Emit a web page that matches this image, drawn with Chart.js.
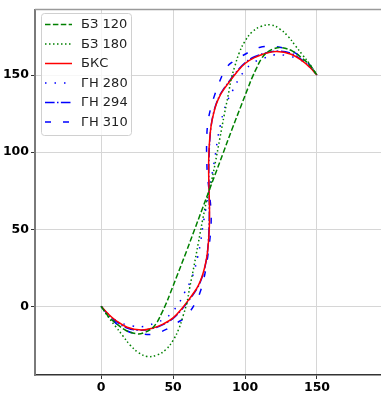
<!DOCTYPE html>
<html>
<head>
<meta charset="utf-8">
<script src="https://cdn.jsdelivr.net/npm/chart.js@4.4.1/dist/chart.umd.min.js"></script>
<style>
  html, body { margin: 0; padding: 0; background: #fff; }
  #wrap { width: 381px; height: 393px; position: relative; }
</style>
</head>
<body>
<div id="wrap"><canvas id="chart"></canvas></div>
<script>
// tick labels
const xTicks = [0, 50, 100, 150];
const yTicks = [0, 50, 100, 150];

// БЗ 120
const bz120X = [0, 5, 10, 17, 25, 30, 35, 39, 42, 45, 48, 53, 59, 65, 70, 75, 80, 85, 91, 97, 102, 105, 108, 111, 115, 120, 125, 133, 140, 145, 150];
const bz120Y = [0, -6.5, -10.7, -15.5, -17.8, -17, -14.5, -10, -4.5, 1.5, 8.5, 20.5, 35, 50, 62.5, 75, 87.5, 100, 115, 129.5, 141.5, 148.5, 154.5, 160, 164.5, 167, 167.8, 165.5, 160.7, 156.5, 150];

// БЗ 180
const bz180X = [0, 5, 10, 15, 20, 26, 32, 39, 45, 50, 54, 57, 59.5, 61.5, 64.5, 67.5, 70.5, 73, 75, 77, 79.5, 82.5, 85.5, 88.5, 90.5, 93, 96, 100, 105, 111, 118, 124, 130, 135, 140, 145, 150];
const bz180Y = [0, -7, -13, -19, -25, -30, -32.5, -31.5, -28, -22, -14.5, -6, 2, 12, 26, 41, 56, 67.5, 75, 82.5, 94, 109, 124, 138, 148, 156, 164.5, 172, 178, 181.5, 182.5, 180, 175, 169, 163, 157, 150];

// БКС
const bksX = [0, 5, 10, 18, 28, 36, 43, 50, 56, 61, 64.5, 67.5, 70, 72, 73.6, 74.6, 75.2, 75.3, 75, 74.7, 74.8, 75.4, 76.4, 78, 80, 82.5, 85.5, 89, 94, 100, 107, 114, 122, 132, 140, 145, 150];
const bksY = [0, -5, -9, -13.5, -15.3, -14, -11.5, -7.5, -1.5, 4.5, 9, 13.5, 19, 25.5, 33, 42, 52, 63, 75, 87, 98, 108, 117, 124.5, 131, 136.5, 141, 145.5, 151.5, 157.5, 161.5, 164, 165.3, 163.5, 159, 155, 150];

// ГН 280
const gn280X = [0, 6, 12, 21.5, 30, 38, 44.7, 50, 54, 58, 62.5, 65, 67.1, 69, 70.6, 72.5, 75, 77.5, 79.4, 81, 82.9, 85, 87.5, 92, 96, 100, 105.3, 112, 120, 128.5, 138, 144, 150];
const gn280Y = [0, -6, -10, -12.7, -13, -10.5, -7.8, -3, 2, 9, 17.2, 24, 32.2, 41, 51.5, 62, 75, 88, 98.5, 109, 117.8, 126, 132.8, 141, 148, 153, 157.8, 160.5, 163, 162.7, 160, 156, 150];

// ГН 294
const gn294X = [0, 5, 10, 18, 27, 35, 43, 50, 56, 61, 64.5, 67.5, 70, 72, 73.5, 74.5, 75, 75.2, 75, 74.8, 75, 75.5, 76.5, 78, 80, 82.5, 85.5, 89, 94, 100, 107, 115, 123, 132, 140, 145, 150];
const gn294Y = [0, -5.5, -9.5, -14, -15.5, -14.5, -11.8, -7.8, -2, 4, 8.5, 13, 18.5, 25, 32.5, 42, 52, 63, 75, 87, 98, 108, 117.5, 125, 131.5, 137, 141.5, 146, 152, 158, 162, 164.5, 165.5, 164, 159.5, 155.5, 150];

// ГН 310
const gn310X = [0, 8, 18, 28, 37, 47.4, 53, 57.8, 62, 66, 68.5, 70.6, 72.5, 74, 75.5, 76.4, 76.2, 75, 73.8, 73.4, 73.3, 74, 76, 78.5, 82, 86.8, 92, 97.2, 104, 110, 120, 130, 140, 145, 150];
const gn310Y = [0, -9, -16, -17.8, -17.8, -13.9, -10.5, -7.5, -3, 3.2, 8.5, 15, 23, 32, 43, 53.7, 64, 75, 86, 96, 106, 118, 128, 136, 145, 154.5, 159, 162, 165.5, 167.9, 168.5, 166.5, 161, 156.5, 150];

const toPoints = (xs, ys) => xs.map((x, i) => ({ x: x, y: ys[i] }));

const makeSet = (label, xs, ys, color, dash) => ({
    label: label,
    data: toPoints(xs, ys),
    borderColor: color,
    borderWidth: 1.5,
    borderDash: dash,
    pointRadius: 0,
    tension: 0.4,
    fill: false
});

// legend drawn inside the plot, plus the top frame line
const frameAndLegend = {
    id: 'frameAndLegend',
    afterDraw(chart) {
        const ctx = chart.ctx;
        const a = chart.chartArea;
        ctx.save();
        ctx.strokeStyle = '#9a9a9a';
        ctx.lineWidth = 1.5;
        ctx.beginPath();
        ctx.moveTo(a.left, a.top);
        ctx.lineTo(a.right, a.top);
        ctx.stroke();

        ctx.fillStyle = 'rgba(255,255,255,0.8)';
        ctx.strokeStyle = '#d0d0d0';
        ctx.lineWidth = 1;
        ctx.beginPath();
        ctx.roundRect(41.5, 13.5, 90, 122, 3);
        ctx.fill();
        ctx.stroke();

        chart.data.datasets.forEach((ds, i) => {
            const y = 24.5 + i * 19.5;
            ctx.strokeStyle = ds.borderColor;
            ctx.lineWidth = ds.borderWidth;
            ctx.setLineDash(ds.borderDash || []);
            ctx.beginPath();
            ctx.moveTo(45, y);
            ctx.lineTo(72, y);
            ctx.stroke();
            ctx.setLineDash([]);
            ctx.fillStyle = '#222';
            ctx.font = '13px "DejaVu Sans"';
            ctx.textBaseline = 'middle';
            ctx.fillText(ds.label, 81, y + 0.5);
        });
        ctx.restore();
    }
};

const tickFont = { family: '"DejaVu Sans"', weight: 'bold', size: 12.5 };

new Chart(document.getElementById('chart'), {
    type: 'line',
    data: {
        datasets: [
            makeSet('БЗ 120', bz120X, bz120Y, '#008000', [5.5, 2.4]),
            makeSet('БЗ 180', bz180X, bz180Y, '#008000', [1.5, 2.5]),
            makeSet('БКС', bksX, bksY, '#ff0000', []),
            makeSet('ГН 280', gn280X, gn280Y, '#0000ff', [1.5, 8]),
            makeSet('ГН 294', gn294X, gn294Y, '#0000ff', [9.6, 2.4, 1.5, 2.4]),
            makeSet('ГН 310', gn310X, gn310Y, '#0000ff', [6, 12])
        ]
    },
    options: {
        responsive: true,
        maintainAspectRatio: false,
        animation: false,
        layout: { padding: { top: 6, right: 0, left: 0, bottom: 0 } },
        plugins: {
            legend: { display: false },
            tooltip: { enabled: false }
        },
        scales: {
            x: {
                type: 'linear',
                min: -46,
                max: 194.5,
                afterBuildTicks: s => { s.ticks = xTicks.map(v => ({ value: v })); },
                afterFit: s => { s.height = 18; },
                grid: { color: '#d6d6d6', lineWidth: 1, tickLength: 4, tickColor: '#333' },
                border: { color: '#333', width: 1.5 },
                ticks: { color: '#000', font: tickFont, padding: 1, autoSkip: false, maxRotation: 0 }
            },
            y: {
                type: 'linear',
                min: -44.5,
                max: 192.5,
                afterBuildTicks: s => { s.ticks = yTicks.map(v => ({ value: v })); },
                afterFit: s => { s.width = 35; },
                grid: { color: '#d6d6d6', lineWidth: 1, tickLength: 4, tickColor: '#333' },
                border: { color: '#7a7a7a', width: 2 },
                ticks: { color: '#000', font: tickFont, padding: 2, autoSkip: false }
            }
        }
    },
    plugins: [frameAndLegend]
});
</script>
</body>
</html>
